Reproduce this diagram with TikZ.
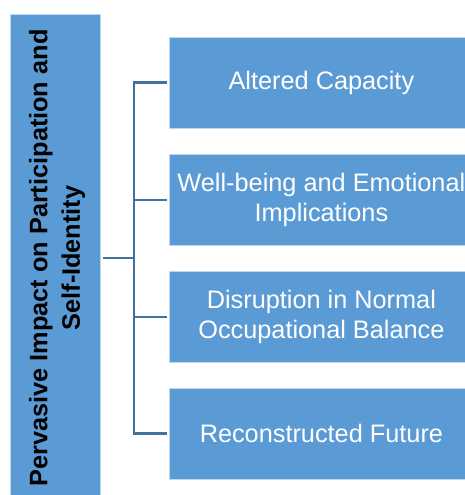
\documentclass[tikz,border=0pt]{standalone}
\usepackage{fontspec}
\setmainfont{Liberation Sans}
\definecolor{boxblue}{HTML}{5B9BD5}
\definecolor{edgeblue}{HTML}{BDD7EE}
\definecolor{linkblue}{HTML}{41719C}
\begin{document}
\begin{tikzpicture}[x=1pt,y=-1pt,
  catbox/.style={draw=edgeblue,line width=0.8pt,fill=boxblue,text=white,inner sep=0pt,
    font=\fontsize{25.3}{29.5}\selectfont,align=center},
  link/.style={draw=linkblue,line width=2.2pt}]
\useasboundingbox (0,0) rectangle (465,495);
\node[draw=edgeblue,line width=0.8pt,fill=boxblue,minimum width=90pt,minimum height=488pt,inner sep=0pt,anchor=north west] (main) at (10,14) {};
\node[rotate=90,font=\bfseries\fontsize{25.3}{32.5}\selectfont,align=center,text=black] (maintext) at (57,258) {Pervasive Impact on Participation and\\Self-Identity};
\node[catbox,minimum width=304pt,minimum height=91pt,anchor=west] (b1) at (169,82.5) {Altered Capacity};
\node[catbox,minimum width=304pt,minimum height=91pt,anchor=west] (b2) at (169,200) {Well-being and Emotional\\Implications};
\node[catbox,minimum width=304pt,minimum height=91pt,anchor=west] (b3) at (169,317) {Disruption in Normal\\Occupational Balance};
\node[catbox,minimum width=304pt,minimum height=91pt,anchor=west] (b4) at (169,433.5) {Reconstructed Future};
\coordinate (hub) at (134,258);
\coordinate (mainr) at (103,258);
\draw[link] (mainr) -- (hub);
\draw[link] (b1.west) ++(-2,0) -| (hub) |- ([xshift=-2pt]b4.west);
\draw[link] (hub |- b2.west) -- ([xshift=-2pt]b2.west);
\draw[link] (hub |- b3.west) -- ([xshift=-2pt]b3.west);
\end{tikzpicture}
\end{document}
